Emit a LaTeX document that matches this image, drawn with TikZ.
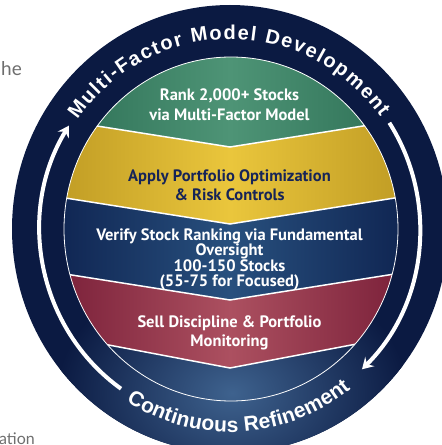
\documentclass[tikz,border=0pt]{standalone}
\usepackage{fontspec}
\usepackage{tikz}
\usetikzlibrary{arrows.meta, decorations.text}
\usepackage{xcolor}
\newfontfamily\labelfont{PT Sans}
\newfontfamily\ringfont{Liberation Sans}
\newfontfamily\pagefont{Lato}
\definecolor{navy}{RGB}{11,26,66}
\definecolor{glow}{RGB}{62,98,142}
\definecolor{greenC}{RGB}{78,148,118}
\definecolor{greenE}{RGB}{42,108,82}
\definecolor{goldC}{RGB}{234,198,60}
\definecolor{goldE}{RGB}{188,152,34}
\definecolor{blueC}{RGB}{40,80,126}
\definecolor{blueE}{RGB}{13,33,78}
\definecolor{redC}{RGB}{172,80,96}
\definecolor{redE}{RGB}{118,28,54}
\definecolor{inkblue}{RGB}{22,36,88}
\definecolor{pagegray}{RGB}{110,110,110}

\begin{document}
\begin{tikzpicture}[>=Stealth, x=1pt, y=1pt,
    band/.style={text=white, align=center, font={\labelfont\bfseries\fontsize{16.5}{19.5}\selectfont}},
    sep/.style={white, line width=1.5pt},
    ringarrow/.style={white, line width=4pt, -{Stealth[length=11pt, width=13pt, inset=4pt]}},
    page/.style={text=pagegray, inner sep=0pt, font={\pagefont\fontsize{16}{16}\selectfont}}]
    \useasboundingbox (0,0) rectangle (442,445);
    \clip (0,0) rectangle (442,445);
    \coordinate (C) at (230,216);

    % outer ring
    \fill [navy] (C) ellipse [x radius=218, y radius=224];
    \begin{scope}
        \clip (C) ellipse [x radius=218, y radius=224];
        \shade [inner color=glow, outer color=navy] (232,52) ellipse [x radius=175, y radius=130];
    \end{scope}

    % chevron bands
    \begin{scope}
        \clip (231,216) ellipse [x radius=167, y radius=172];
        \shade [left color=greenE, right color=greenE, middle color=greenC] (40,445) -- (40,328) -- (230,298) -- (420,328) -- (420,445) -- cycle;
        \shade [left color=goldE, right color=goldE, middle color=goldC] (40,328) -- (230,298) -- (420,328) -- (420,251) -- (230,221) -- (40,251) -- cycle;
        \shade [left color=blueE, right color=blueE, middle color=blueC] (40,251) -- (230,221) -- (420,251) -- (420,175) -- (230,145) -- (40,175) -- cycle;
        \shade [left color=redE, right color=redE, middle color=redC] (40,175) -- (230,145) -- (420,175) -- (420,113) -- (230,77) -- (40,113) -- cycle;
        \draw [sep] (40,328) -- (230,298) -- (420,328);
        \draw [sep] (40,251) -- (230,221) -- (420,251);
        \draw [sep] (40,175) -- (230,145) -- (420,175);
        \draw [sep] (40,113) -- (230,77) -- (420,113);
    \end{scope}
    \draw [white, line width=0.8pt] (231,216) ellipse [x radius=167, y radius=172];

    % cycle arrows
    \coordinate (Ls) at ([shift={(C)}]235:190pt and 195pt);
    \coordinate (Rs) at ([shift={(C)}]33:190pt and 195pt);
    \draw [ringarrow] (Ls) arc [start angle=235, end angle=148, x radius=190pt, y radius=195pt];
    \draw [ringarrow] (Rs) arc [start angle=33, end angle=-46, x radius=190pt, y radius=195pt];

    % ring texts
    \coordinate (Ts) at ([shift={(C)}]145:186pt and 190pt);
    \coordinate (Bs) at ([shift={(C)}]238:196pt and 203pt);
    \path [decorate, decoration={text along path, text align={fit to path}, text color=white,
        text={|\ringfont\bfseries\fontsize{20}{20}\selectfont|Multi-Factor Model Development}}]
        (Ts) arc [start angle=145, end angle=36, x radius=186pt, y radius=190pt];
    \path [decorate, decoration={text along path, text align={fit to path}, text color=white,
        text={|\ringfont\bfseries\fontsize{21}{21}\selectfont|Continuous Refinement}}]
        (Bs) arc [start angle=238, end angle=308, x radius=196pt, y radius=203pt];

    % band labels
    \node (rank) [band] at (229.5,340.5) {Rank 2,000+ Stocks\\via Multi-Factor Model};
    \node (apply) [band, text=inkblue] at (229.5,259.7) {Apply Portfolio Optimization\\\& Risk Controls};
    \node (verify) [band, font={\labelfont\bfseries\fontsize{16.5}{15.5}\selectfont}] at (229.5,185.5)
        {Verify Stock Ranking via Fundamental\\Oversight\\100-150 Stocks\\(55-75 for Focused)};
    \node (sell) [band] at (229.5,112.3) {Sell Discipline \& Portfolio\\Monitoring};

    % page text cut by the crop
    \node (he) [page, anchor=base east, font={\pagefont\fontsize{19}{19}\selectfont}] at (22,369) {he};
    \node (ation) [page, anchor=base east] at (35,1) {ation};
\end{tikzpicture}
\end{document}
